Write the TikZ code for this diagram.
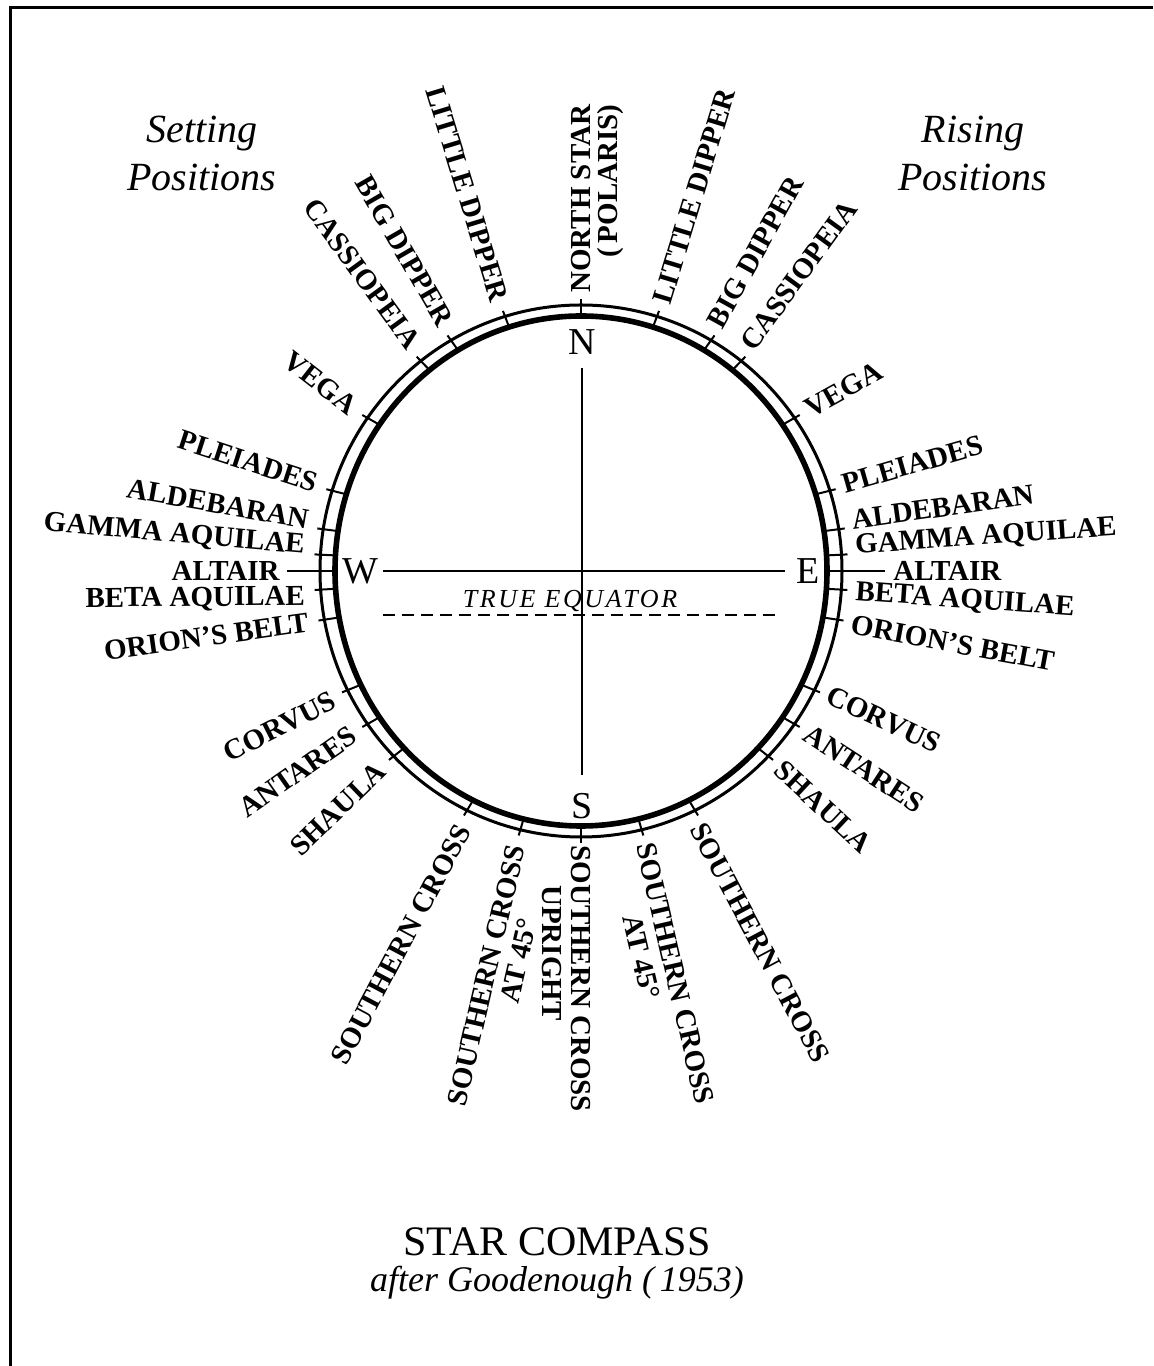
\documentclass[tikz,border=0pt]{standalone}
\usepackage{fontspec}
\setmainfont{Liberation Serif}
\usetikzlibrary{positioning}

\tikzset{
  star/.style={inner sep=0pt,font=\fontsize{14.5}{16}\selectfont\bfseries},
  cardinal/.style={inner sep=2pt,font=\fontsize{19}{21}\selectfont},
  heading/.style={align=center,font=\fontsize{20}{24}\selectfont\itshape},
  tickmark/.style={line width=1pt},
}

\begin{document}
\begin{tikzpicture}[x=0.5pt,y=0.5pt,
  axis/.style={line width=1.2pt},
  equator/.style={line width=1pt,dash pattern=on 6pt off 3.5pt}]

  \path[fill=white,use as bounding box] (0,0) rectangle (1153,1366);
  \draw[line width=1.5pt] (10,0) -- (10,1358) -- (1153,1358);

  \node[heading] (setting) at (202,1213) {Setting\\Positions};
  \node[heading] (rising) at (973,1213) {Rising\\Positions};

  \begin{scope}[shift={(581,795)}]
    % ring and ticks
    \draw[line width=1.5pt] (0,0) ellipse [x radius=261,y radius=266];
    \draw[line width=2.8pt] (0,0) ellipse [x radius=246,y radius=255];
    \foreach \t in {90,73,60,52,35,17.5,9,3.5,-4,-10.5,-26.5,-35,-44,-64,-76.5,-90}{
      \pgfmathsetmacro\u{180-\t}
      \draw[tickmark] (\t:246 and 255) -- (\t:267 and 272);
      \draw[tickmark] (\u:246 and 255) -- (\u:267 and 272);
    }

    % rising positions
    \foreach \t/\r/\txt [count=\i] in {73/73/LITTLE DIPPER, 61/61/BIG DIPPER,
        53/54/CASSIOPEIA, 35/29/VEGA, 18/16/PLEIADES, 10.5/8/ALDEBARAN,
        5/4/GAMMA AQUILAE, -4.5/-4/BETA AQUILAE, -11/-10.5/ORION’S BELT,
        -26/-25/CORVUS, -35/-33/ANTARES, -44/-43/SHAULA,
        -65/-62/SOUTHERN CROSS, -76.5/-77/SOUTHERN CROSS}
      \path (\t:261 and 266) ++(\t:14) node[star,rotate=\r,anchor=west] (rise\i) {\txt};

    % setting positions
    \foreach \t/\r/\txt [count=\i] in {107/-73/LITTLE DIPPER, 119/-60/BIG DIPPER,
        127/-54/CASSIOPEIA, 145/-38/VEGA, 162/-18/PLEIADES, 169.5/-10/ALDEBARAN,
        175/-5/GAMMA AQUILAE, 185.5/0.5/BETA AQUILAE, 190.5/8/ORION’S BELT,
        207/27/CORVUS, 215/35/ANTARES, 224/44/SHAULA,
        245/62/SOUTHERN CROSS, 256.5/77/SOUTHERN CROSS}
      \path (\t:261 and 266) ++(\t:16) node[star,rotate=\r,anchor=east] (set\i) {\txt};

    \path (-76.5:261 and 266) ++(-76.5:124) ++(-167:30) node[star,rotate=-77] (at45r) {AT 45°};
    \path (256.5:261 and 266) ++(256.5:128) ++(-13:29) node[star,rotate=77] (at45l) {AT 45°};

    \path (90:261 and 266) ++(90:12) node[star,rotate=90,anchor=west] (north) {NORTH STAR};
    \path (90:261 and 266) ++(90:124) ++(0:30) node[star,rotate=90] (polaris) {(\,POLARIS)};
    \path (-90:261 and 266) ++(-90:8) node[star,rotate=-90,anchor=west] (upcross) {SOUTHERN CROSS};
    \path (-90:261 and 266) ++(-90:116) ++(180:29) node[star,rotate=-90] (upright) {UPRIGHT};

    \node[star,anchor=west] (altairR) at (312,0) {ALTAIR};
    \node[star,anchor=east] (altairL) at (-301,0) {ALTAIR};
    \draw[tickmark] (0:246 and 255) -- ([xshift=-4pt]altairR.west);
    \draw[tickmark] (180:246 and 255) -- ([xshift=3.5pt]altairL.east);

    % cross
    \node[cardinal] (N) at (1,229) {N};
    \node[cardinal] (S) at (1,-235) {S};
    \node[cardinal] (W) at (-221,0) {W};
    \node[cardinal] (E) at (227,0) {E};
    \draw[axis,shorten <=4.75pt,shorten >=6.75pt] (N) -- (S);
    \draw[axis,shorten <=0.5pt,shorten >=3.7pt] (W) -- (E);

    \coordinate (eqW) at (-198,-44);
    \coordinate (eqE) at (194,-44);
    \draw[equator] (eqW) -- (eqE);
    \node[inner sep=0pt,font=\fontsize{13}{15}\selectfont\itshape] (eqtext) at (-11,-30)
      {\addfontfeature{LetterSpace=10}TRUE EQUATOR};
  \end{scope}

  \node[inner sep=0pt,font=\fontsize{21}{24}\selectfont] (title) at (557,124) {STAR COMPASS};
  \node[inner sep=0pt,font=\fontsize{18}{22}\selectfont\itshape,below=4.5pt of title] (credit)
    {after Goodenough (\,1953)};
\end{tikzpicture}
\end{document}
